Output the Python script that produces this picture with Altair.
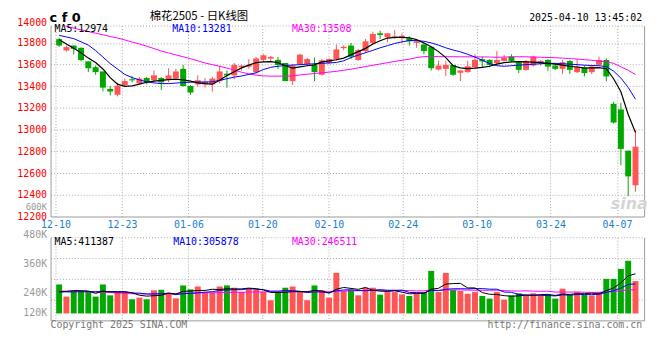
import altair as alt
import pandas as pd

# ---------------- data ----------------
dates = [
    "12-10", "12-11", "12-12", "12-13", "12-16", "12-17", "12-18", "12-19", "12-20",
    "12-23", "12-24", "12-25", "12-26", "12-27", "12-30", "12-31",
    "01-02", "01-03", "01-06", "01-07", "01-08", "01-09", "01-10", "01-13", "01-14",
    "01-15", "01-16", "01-17", "01-20", "01-21", "01-22", "01-23", "01-24", "01-27",
    "02-05", "02-06", "02-07", "02-10", "02-11", "02-12", "02-13", "02-14", "02-17",
    "02-18", "02-19", "02-20", "02-21", "02-24", "02-25", "02-26", "02-27", "02-28",
    "03-03", "03-04", "03-05", "03-06", "03-07", "03-10", "03-11", "03-12", "03-13",
    "03-14", "03-17", "03-18", "03-19", "03-20", "03-21", "03-24", "03-25", "03-26",
    "03-27", "03-28", "03-31", "04-01", "04-02", "04-03", "04-07", "04-08", "04-09",
    "04-10",
]

opens = [13835, 13731, 13776, 13755, 13630, 13576, 13537, 13376, 13322, 13412,
         13465, 13427, 13477, 13456, 13477, 13465, 13471, 13561, 13403, 13418,
         13418, 13418, 13448, 13516, 13501, 13576, 13582, 13531, 13644, 13656,
         13644, 13615, 13448, 13606, 13606, 13597, 13507, 13615, 13651, 13752,
         13776, 13642, 13725, 13800, 13889, 13853, 13845, 13845, 13845, 13800,
         13785, 13764, 13555, 13561, 13597, 13525, 13531, 13576, 13650, 13644,
         13613, 13634, 13674, 13622, 13552, 13592, 13613, 13643, 13592, 13561,
         13634, 13531, 13573, 13531, 13598, 13643, 13239, 13187, 12807, 12488]
closes = [13776, 13761, 13746, 13642, 13567, 13531, 13388, 13352, 13406, 13448,
          13455, 13471, 13436, 13501, 13436, 13501, 13537, 13403, 13343, 13456,
          13442, 13471, 13537, 13501, 13597, 13591, 13597, 13657, 13686, 13671,
          13597, 13448, 13591, 13692, 13651, 13531, 13639, 13651, 13740, 13764,
          13674, 13734, 13815, 13883, 13874, 13889, 13860, 13865, 13815, 13815,
          13725, 13567, 13591, 13597, 13507, 13546, 13585, 13645, 13630, 13597,
          13643, 13664, 13634, 13552, 13634, 13674, 13634, 13582, 13561, 13622,
          13552, 13582, 13522, 13582, 13643, 13491, 13066, 12823, 12570, 12844]
highs = [13847, 13776, 13776, 13758, 13630, 13591, 13537, 13403, 13433, 13472,
         13495, 13486, 13486, 13546, 13486, 13567, 13561, 13597, 13412, 13501,
         13477, 13486, 13591, 13546, 13615, 13597, 13651, 13671, 13695, 13680,
         13671, 13615, 13606, 13701, 13665, 13665, 13651, 13659, 13785, 13779,
         13800, 13746, 13836, 13904, 13913, 13889, 13919, 13889, 13860, 13830,
         13800, 13764, 13636, 13636, 13597, 13546, 13636, 13695, 13674, 13650,
         13725, 13689, 13695, 13634, 13643, 13683, 13643, 13652, 13613, 13643,
         13643, 13652, 13592, 13592, 13674, 13658, 13257, 13248, 12807, 12996]
lows = [13764, 13719, 13695, 13630, 13531, 13507, 13352, 13316, 13307, 13400,
        13436, 13418, 13418, 13442, 13367, 13436, 13456, 13397, 13322, 13397,
        13388, 13352, 13427, 13388, 13465, 13546, 13561, 13516, 13627, 13627,
        13561, 13448, 13412, 13597, 13591, 13448, 13501, 13606, 13636, 13734,
        13650, 13636, 13710, 13785, 13836, 13806, 13836, 13800, 13776, 13755,
        13695, 13546, 13546, 13495, 13495, 13448, 13525, 13567, 13576, 13576,
        13604, 13628, 13622, 13522, 13543, 13582, 13592, 13543, 13552, 13513,
        13513, 13522, 13491, 13513, 13592, 13446, 13057, 12671, 12388, 12428]

ma5 = [13830, 13790, 13750, 13710, 13660, 13620, 13560, 13480, 13420, 13400,
       13405, 13420, 13438, 13448, 13455, 13462, 13465, 13460, 13448, 13432,
       13425, 13420, 13455, 13500, 13535, 13570, 13595, 13618, 13625, 13628,
       13618, 13590, 13568, 13580, 13590, 13598, 13625, 13634, 13645, 13660,
       13690, 13720, 13750, 13790, 13820, 13845, 13852, 13852, 13848, 13830,
       13800, 13765, 13720, 13665, 13590, 13570, 13563, 13568, 13575, 13585,
       13605, 13618, 13625, 13628, 13626, 13623, 13618, 13612, 13604, 13595,
       13585, 13578, 13568, 13570, 13573, 13562, 13470, 13350, 13140, 12974]
ma10 = [13870, 13855, 13840, 13810, 13780, 13730, 13670, 13610, 13560, 13510,
        13480, 13460, 13442, 13432, 13425, 13425, 13430, 13435, 13438, 13440,
        13440, 13442, 13455, 13470, 13485, 13495, 13510, 13525, 13555, 13575,
        13585, 13592, 13596, 13600, 13604, 13608, 13612, 13615, 13620, 13635,
        13665, 13688, 13710, 13732, 13755, 13775, 13795, 13810, 13822, 13822,
        13815, 13800, 13780, 13755, 13735, 13718, 13695, 13670, 13640, 13610,
        13590, 13585, 13590, 13595, 13600, 13604, 13608, 13612, 13612, 13608,
        13604, 13600, 13595, 13592, 13590, 13582, 13540, 13476, 13390, 13281]
ma30 = [13975, 13955, 13937, 13920, 13905, 13890, 13875, 13860, 13845, 13828,
        13808, 13790, 13770, 13748, 13725, 13708, 13690, 13672, 13655, 13635,
        13615, 13600, 13585, 13568, 13550, 13530, 13515, 13503, 13496, 13494,
        13494, 13494, 13495, 13505, 13512, 13518, 13525, 13531, 13538, 13548,
        13558, 13570, 13582, 13594, 13606, 13618, 13630, 13640, 13650, 13665,
        13674, 13674, 13674, 13673, 13673, 13672, 13672, 13671, 13671, 13670,
        13668, 13670, 13672, 13673, 13672, 13670, 13668, 13666, 13664, 13660,
        13655, 13652, 13646, 13640, 13634, 13625, 13612, 13580, 13548, 13508]

volume = [301, 175, 233, 236, 222, 175, 301, 188, 222, 222,
          147, 164, 147, 240, 246, 216, 157, 291, 250, 280,
          216, 216, 280, 291, 267, 222, 257, 250, 222, 137,
          222, 267, 280, 222, 137, 291, 240, 164, 421, 233,
          243, 188, 267, 267, 195, 222, 222, 198, 181, 216,
          222, 442, 222, 421, 243, 233, 205, 222, 181, 154,
          222, 144, 188, 209, 188, 209, 188, 195, 154, 257,
          195, 222, 195, 188, 222, 359, 359, 462, 547, 336]  # thousands
vma5 = [225, 228, 238, 236, 233, 208, 233, 224, 222, 222,
        216, 189, 180, 184, 189, 211, 201, 230, 232, 239,
        239, 251, 248, 257, 254, 255, 263, 257, 244, 218,
        218, 220, 226, 226, 226, 239, 234, 211, 251, 270,
        260, 250, 270, 240, 232, 228, 235, 221, 204, 208,
        208, 252, 261, 305, 310, 312, 265, 265, 217, 199,
        197, 185, 178, 183, 190, 188, 196, 198, 187, 201,
        198, 205, 205, 211, 204, 237, 265, 318, 390, 411.4]
vma10 = [224, 224, 224, 225, 226, 226, 227, 227, 227, 227.5,
         212, 211, 202, 203, 205, 209, 195, 205, 208, 214,
         221, 226, 239, 244, 246, 247, 257, 253, 247, 232,
         232, 237, 237, 230, 217, 224, 223, 215, 235, 244,
         246, 238, 236, 241, 247, 240, 238, 242, 218, 216,
         214, 240, 236, 251, 256, 257, 255, 258, 258, 252,
         252, 222, 219, 198, 192, 190, 188, 185, 182, 193,
         190, 197, 198, 196, 199, 219, 236, 263, 302, 305.9]
vma30 = [233, 232, 230, 228, 225, 222, 220, 216, 212, 208,
         205, 203, 202, 202, 203, 205, 207, 209, 211, 213,
         214, 215, 216, 218, 219, 220, 222, 223, 224, 225.7,
         223, 226, 227, 227, 224, 228, 226, 225, 232, 232,
         235, 236, 240, 241, 239, 240, 242, 239, 237, 234,
         235, 242, 240, 245, 244, 244, 242, 241, 240, 241,
         241, 237, 234, 233, 235, 232, 230, 231, 222, 223,
         222, 223, 220, 218, 219, 223, 228, 237, 243, 246.5]

legend_price = ["MA5:12974", "MA10:13281", "MA30:13508"]
legend_vol = ["MA5:411387", "MA10:305878", "MA30:246511"]
title_code = "c f 0"
title_main = "棉花2505 - 日K线图"
timestamp = "2025-04-10 13:45:02"
footer_left = "Copyright 2025 SINA.COM"
footer_right = "http://finance.sina.com.cn"

tick_dates_idx = [0, 9, 18, 28, 37, 47, 57, 67, 76]
price_ticks = [12200, 12400, 12600, 12800, 13000, 13200, 13400, 13600, 13800]

# ---------------- axis / layout configuration ----------------
n = len(dates)
price_dom = [12200, 13960]
price_top_label = "14000"
price_extra_val, price_extra_txt = 12296, "600K"
vol_dom = [-71900, 790800]
vol_grid_vals = [143800, 359400, 575100, 790800]
vol_label_vals = [7200, 215700, 516600, 790800]
vol_label_txt = ["120K", "240K", "360K", "480K"]

RED = "#ff5555"
GREEN = "#00a800"
GRID = "#a8a8a8"
BORDER = "#9a9a9a"
MONO = "DejaVu Sans Mono"

df = pd.DataFrame({
    "i": list(range(n)), "date": dates,
    "open": opens, "close": closes, "high": highs, "low": lows,
    "ma5": ma5, "ma10": ma10, "ma30": ma30,
    "vol": [v * 1000 for v in volume],
    "vma5": [v * 1000 for v in vma5],
    "vma10": [v * 1000 for v in vma10],
    "vma30": [v * 1000 for v in vma30],
})
df["dir"] = ["up" if c >= o else "down" for o, c in zip(opens, closes)]

xvals = [k * n / (n - 1) - 0.5 for k in tick_dates_idx]
date_arr = "[" + ",".join(f"'{d}'" for d in dates) + "]"
x_label_expr = f"{date_arr}[round((datum.value + 0.5) * {n - 1} / {n})]"
xscale = alt.Scale(domain=[-0.5, n - 0.5], nice=False, zero=False)


def xaxis(show_labels):
    return alt.Axis(values=xvals, labelExpr=x_label_expr, labels=show_labels,
                    grid=True, gridColor=GRID, gridDash=[1, 2], gridWidth=1,
                    ticks=False, domain=True, domainColor=BORDER, domainWidth=1,
                    labelFont=MONO, labelFontSize=10, labelColor="#1a7fd4",
                    labelPadding=3, labelFlush=False, labelOverlap=False,
                    labelBound=False, title=None)


color = alt.Color("dir:N", scale=alt.Scale(domain=["up", "down"], range=[RED, GREEN]),
                  legend=None)


def note(text, col, x, y, size=10, align="left", font=MONO, weight="normal",
         baseline="middle", style="normal"):
    return alt.Chart(pd.DataFrame({"t": [text]})).mark_text(
        align=align, baseline=baseline, font=font, fontSize=size,
        fontWeight=weight, fontStyle=style, color=col
    ).encode(text="t:N", x=alt.value(x), y=alt.value(y))


# ---------------- price panel ----------------
pscale = alt.Scale(domain=price_dom, nice=False, zero=False)
p_vals = price_ticks + [price_extra_val, price_dom[1]]
p_label_expr = (f"datum.value == {price_dom[1]} ? '{price_top_label}' : "
                f"datum.value == {price_extra_val} ? '{price_extra_txt}' : "
                f"format(datum.value, 'd')")
extra_test = f"datum.value == {price_extra_val}"
p_axis = alt.Axis(
    values=p_vals, labelExpr=p_label_expr, grid=True, gridDash=[1, 2],
    gridColor={"condition": {"test": f"datum.value == {price_dom[0]} || {extra_test}",
                             "value": "transparent"}, "value": GRID},
    labelColor={"condition": {"test": extra_test, "value": "#999999"}, "value": "#ff0000"},
    labelFontSize={"condition": {"test": extra_test, "value": 9}, "value": 10},
    labelBaseline={"condition": {"test": f"datum.value == {price_dom[1]}", "value": "alphabetic"},
                   "value": "middle"},
    ticks=False, domain=True, domainColor=BORDER, labelFont=MONO,
    labelPadding=4, labelOverlap=False, labelBound=False, title=None, orient="left")
right_axis = alt.Axis(orient="right", labels=False, ticks=False, grid=False, domain=True,
                      domainColor=BORDER, title=None)

Xp = alt.X("i:Q", scale=xscale, axis=xaxis(True))
base = alt.Chart(df)
wick = base.mark_rule(strokeWidth=1).encode(
    x=Xp, y=alt.Y("low:Q", scale=pscale, axis=None), y2="high:Q", color=color)
body = base.mark_bar(size=6).encode(
    x=Xp, y=alt.Y("open:Q", scale=pscale, axis=p_axis), y2="close:Q", color=color)
l30 = base.mark_line(color="#ff00ff", strokeWidth=1, clip=True).encode(
    x=Xp, y=alt.Y("ma30:Q", scale=pscale, axis=right_axis))
l10 = base.mark_line(color="#0000ff", strokeWidth=1, clip=True).encode(
    x=Xp, y=alt.Y("ma10:Q", scale=pscale, axis=None))
l5 = base.mark_line(color="#000000", strokeWidth=1.2, clip=True).encode(
    x=Xp, y=alt.Y("ma5:Q", scale=pscale, axis=None))

main = alt.layer(
    wick, body, l30, l10, l5,
    note(legend_price[0], "#000000", 4, 3.5),
    note(legend_price[1], "#0000ff", 123, 3.5),
    note(legend_price[2], "#ff00ff", 244, 3.5),
    note(title_code, "#000000", -1, -8, size=13, font="DejaVu Sans", weight="bold"),
    note(title_main, "#000000", 150, -8.5, size=11.5, align="center", font="Noto Sans CJK SC"),
    note(timestamp, "#000000", 598, -8, size=10, align="right"),
    note("sina", "#d4d4d4", 585, 180, size=16, align="center", font="DejaVu Sans",
         weight="bold", style="italic"),
).resolve_axis(y="independent").properties(width=600, height=193)

# ---------------- volume panel ----------------
vscale = alt.Scale(domain=vol_dom, nice=False, zero=False)
v_vals = sorted(set(vol_grid_vals + vol_label_vals))
v_label_expr = " : ".join(
    f"datum.value == {v} ? '{t}'" for v, t in zip(vol_label_vals, vol_label_txt)) + " : ''"
grid_list = "[" + ",".join(str(v) for v in vol_grid_vals) + "]"
v_axis = alt.Axis(
    values=v_vals, labelExpr=v_label_expr, grid=True, gridDash=[1, 2],
    gridColor={"condition": {"test": f"indexof({grid_list}, datum.value) < 0",
                             "value": "transparent"}, "value": GRID},
    labelBaseline={"condition": {"test": f"datum.value == {vol_dom[1]}", "value": "alphabetic"},
                   "value": "middle"},
    labelColor="#999999", ticks=False, domain=True, domainColor=BORDER, labelFont=MONO,
    labelFontSize=10, labelPadding=4, labelOverlap=False, labelBound=False, title=None,
    orient="left")

Xv = alt.X("i:Q", scale=xscale, axis=xaxis(False))
vbars = base.mark_bar(size=6).encode(
    x=Xv, y=alt.Y("vol:Q", scale=vscale, axis=v_axis), y2=alt.datum(0), color=color)
vl30 = base.mark_line(color="#ff00ff", strokeWidth=1, clip=True).encode(
    x=Xv, y=alt.Y("vma30:Q", scale=vscale, axis=right_axis))
vl10 = base.mark_line(color="#0000ff", strokeWidth=1, clip=True).encode(
    x=Xv, y=alt.Y("vma10:Q", scale=vscale, axis=None))
vl5 = base.mark_line(color="#000000", strokeWidth=1, clip=True).encode(
    x=Xv, y=alt.Y("vma5:Q", scale=vscale, axis=None))

vol = alt.layer(
    vbars, vl30, vl10, vl5,
    note(legend_vol[0], "#000000", 4, 4.3),
    note(legend_vol[1], "#0000ff", 124, 4.3),
    note(legend_vol[2], "#ff00ff", 244, 4.3),
    note(footer_left, "#777777", 0, 89),
    note(footer_right, "#777777", 598, 89, align="right"),
).resolve_axis(y="independent").properties(width=600, height=84)

chart = alt.vconcat(main, vol, spacing=21, bounds="flush").properties(
    padding={"left": 8, "top": 1, "right": 4, "bottom": 2}
).configure_view(stroke=None)

chart.save("out.html", embed_options={"renderer": "svg", "actions": False})
